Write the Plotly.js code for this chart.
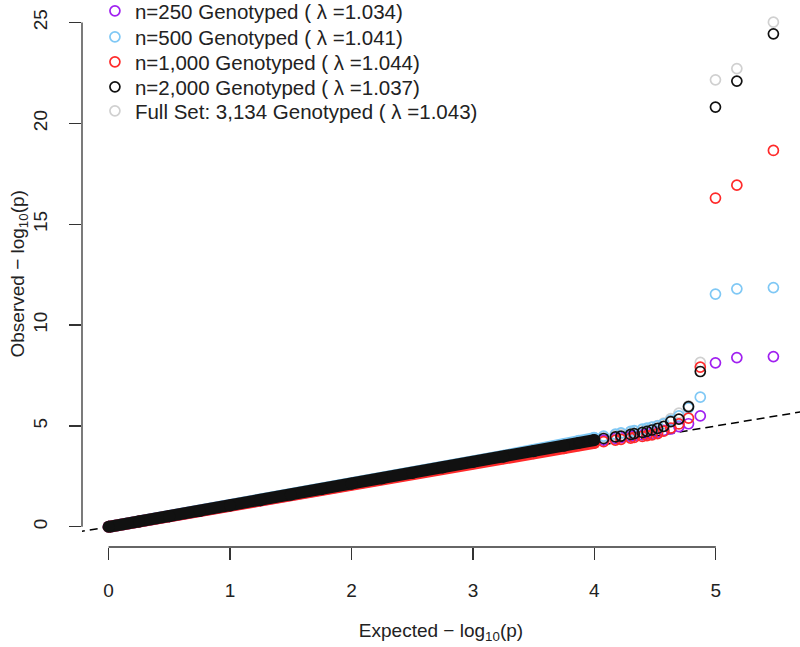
<!DOCTYPE html>
<html><head><meta charset="utf-8">
<script src="https://cdn.plot.ly/plotly-3.0.1.min.js"></script>
<style>html,body{margin:0;padding:0;background:#fff}#chart{width:800px;height:647px}</style>
</head><body><div id="chart"></div>
<script>
// ---- data ----
const seriesNames = [
  'n=250 Genotyped ( λ =1.034)',
  'n=500 Genotyped ( λ =1.041)',
  'n=1,000 Genotyped ( λ =1.044)',
  'n=2,000 Genotyped ( λ =1.037)',
  'Full Set: 3,134 Genotyped ( λ =1.043)'
];
const seriesColors = ['#a020f0', '#7fc8f5', '#ff2a2a', '#111111', '#d0d0d0'];

// dense part of the cloud (expected, observed)
const xBulk = [0, 0.25, 0.5, 0.75, 1.0, 1.25, 1.5, 1.75, 2.0, 2.25, 2.5, 2.75, 3.0, 3.25, 3.5, 3.75, 4.0];
const yBulk250  = [0, 0.26, 0.53, 0.79, 1.06, 1.32, 1.59, 1.86, 2.13, 2.40, 2.67, 2.93, 3.19, 3.45, 3.71, 3.97, 4.23];
const yBulk500  = [0, 0.26, 0.53, 0.79, 1.06, 1.32, 1.59, 1.86, 2.13, 2.40, 2.67, 2.95, 3.23, 3.52, 3.81, 4.10, 4.40];
const yBulk1000 = [0, 0.26, 0.53, 0.79, 1.06, 1.32, 1.59, 1.86, 2.13, 2.40, 2.65, 2.90, 3.15, 3.40, 3.65, 3.90, 4.16];
const yBulk2000 = [0, 0.26, 0.53, 0.79, 1.06, 1.32, 1.59, 1.86, 2.13, 2.40, 2.67, 2.94, 3.21, 3.48, 3.75, 4.02, 4.30];
const yBulkFull = [0, 0.26, 0.53, 0.79, 1.06, 1.32, 1.59, 1.86, 2.13, 2.40, 2.67, 2.94, 3.22, 3.50, 3.78, 4.06, 4.34];

// top-ranked SNPs (expected, observed)
const xTail = [3.872, 3.997, 4.076, 4.173, 4.219, 4.298, 4.328, 4.395, 4.433, 4.474, 4.520, 4.571, 4.629, 4.696, 4.775, 4.872, 4.997, 5.173, 5.474];
const yTail250  = [4.10, 4.22, 4.30, 4.38, 4.42, 4.48, 4.51, 4.56, 4.60, 4.64, 4.70, 4.78, 4.85, 4.97, 5.11, 5.50, 8.13, 8.39, 8.44];
const yTail500  = [4.28, 4.42, 4.50, 4.60, 4.66, 4.73, 4.77, 4.84, 4.89, 4.94, 5.01, 5.10, 5.28, 5.50, 5.90, 6.43, 11.54, 11.80, 11.86];
const yTail1000 = [4.04, 4.16, 4.22, 4.30, 4.34, 4.40, 4.43, 4.48, 4.52, 4.56, 4.62, 4.74, 4.90, 5.10, 5.39, 7.92, 16.30, 16.94, 18.66];
const yTail2000 = [4.16, 4.30, 4.38, 4.46, 4.50, 4.58, 4.62, 4.68, 4.73, 4.80, 4.88, 4.98, 5.22, 5.34, 5.96, 7.70, 20.81, 22.10, 24.44];
const yTailFull = [4.22, 4.38, 4.46, 4.56, 4.61, 4.69, 4.73, 4.80, 4.86, 4.93, 5.02, 5.14, 5.36, 5.64, 6.00, 8.15, 22.16, 22.72, 25.02];

const xTicks = [0, 1, 2, 3, 4, 5];
const yTicks = [0, 5, 10, 15, 20, 25];
const refLine = [-1, 7];   // y = x reference
const xTitle = 'Expected − log<sub>10</sub>(p)';
const yTitle = 'Observed − log<sub>10</sub>(p)';

// ---- build traces ----
const bulkYs = [yBulk250, yBulk500, yBulk1000, yBulk2000, yBulkFull];
const tailYs = [yTail250, yTail500, yTail1000, yTail2000, yTailFull];
const drawOrder = [4, 0, 1, 2, 3]; // full set first, n=2,000 on top
const legendIds = ['legend', 'legend2', 'legend3', 'legend4', 'legend5'];

const traces = [{
  x: refLine, y: refLine, mode: 'lines', showlegend: false, hoverinfo: 'skip',
  line: {color: '#000', width: 1.5, dash: '8px,5px'}
}];
drawOrder.forEach(i => {
  traces.push({
    x: xBulk, y: bulkYs[i], mode: 'lines+markers', showlegend: false, hoverinfo: 'skip',
    line: {color: seriesColors[i], width: 12},
    marker: {symbol: 'circle', size: 12, color: seriesColors[i]}
  });
  traces.push({
    x: xTail, y: tailYs[i], mode: 'markers', name: seriesNames[i],
    legend: legendIds[i], showlegend: true,
    marker: {symbol: 'circle-open', size: 10, color: seriesColors[i], line: {width: 1.7, color: seriesColors[i]}}
  });
});

const axisCommon = {
  showgrid: false, zeroline: false, showline: false,
  ticks: 'outside', ticklen: 12, tickwidth: 1.3, tickcolor: '#333',
  tickfont: {size: 19, color: '#222'}, fixedrange: true
};

const legendRowsY = [0.9835, 0.9358, 0.8899, 0.8440, 0.8000];
const layout = {
  width: 800, height: 647,
  margin: {l: 82, r: 0, t: 2, b: 100, autoexpand: false},
  paper_bgcolor: '#fff', plot_bgcolor: '#fff',
  font: {family: '"Liberation Sans", Arial, sans-serif', size: 19, color: '#222'},
  xaxis: Object.assign({}, axisCommon, {
    range: [-0.219, 5.693], tickvals: xTicks, ticktext: xTicks.map(String),
    ticklabelstandoff: 14,
    title: {text: xTitle, font: {size: 19, color: '#222'}, standoff: 23}
  }),
  yaxis: Object.assign({}, axisCommon, {
    range: [-1.0, 26.02], tickvals: yTicks, ticktext: yTicks.map(String),
    tickangle: -90, ticklabelstandoff: 14
  }),
  annotations: [{
    text: yTitle, textangle: -90, showarrow: false,
    xref: 'paper', x: -0.0891, xanchor: 'center',
    yref: 'paper', y: 0.5, yanchor: 'middle',
    font: {size: 19, color: '#222'}
  }],
  shapes: [
    {type: 'line', xref: 'paper', x0: 0, x1: 0, yref: 'y', y0: yTicks[0], y1: yTicks[yTicks.length - 1], line: {color: '#333', width: 1.3}},
    {type: 'line', yref: 'paper', y0: 0, y1: 0, xref: 'x', x0: xTicks[0], x1: xTicks[xTicks.length - 1], line: {color: '#333', width: 1.3}}
  ],
  showlegend: true
};
legendIds.forEach((id, i) => {
  layout[id] = {
    x: 0.018, y: legendRowsY[i], xanchor: 'left', yanchor: 'middle',
    bgcolor: 'rgba(0,0,0,0)', font: {size: 20.5, color: '#222'}, itemwidth: 30
  };
});

Plotly.newPlot('chart', traces, layout, {displayModeBar: false, staticPlot: true});
</script></body></html>
